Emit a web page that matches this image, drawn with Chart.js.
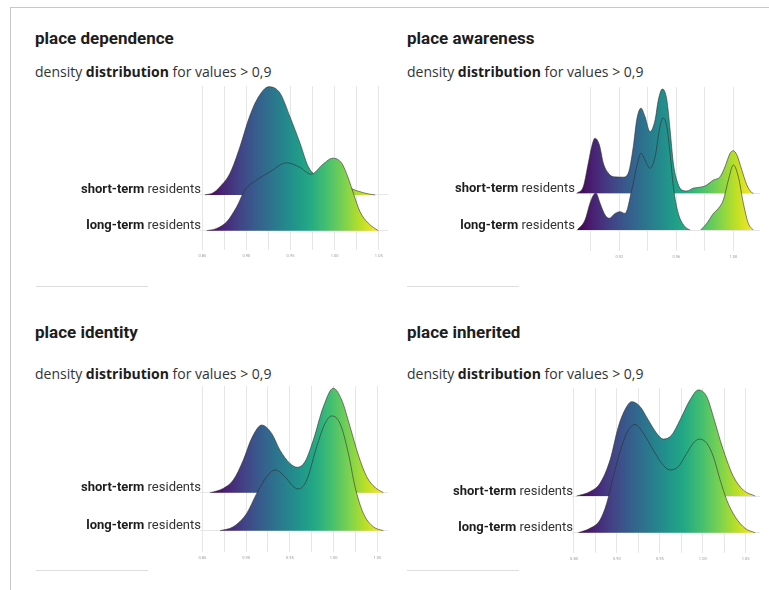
<!DOCTYPE html>
<html>
<head>
<meta charset="utf-8">
<script src="https://cdn.jsdelivr.net/npm/chart.js@4.4.1/dist/chart.umd.min.js"></script>
<style>
  html, body { margin: 0; padding: 0; background: #fff; }
  body { width: 769px; height: 590px; position: relative; overflow: hidden; font-family: Roboto, "Noto Sans", sans-serif; }
  .frame { position: absolute; left: 10px; top: 7px; width: 800px; height: 620px; border-top: 1px solid #c8c8c8; border-left: 1px solid #c8c8c8; }
  .title { position: absolute; font-weight: 700; font-size: 17px; line-height: 17px; color: #1d1d1d; white-space: nowrap; }
  .sub { position: absolute; font-family: "Open Sans", Roboto, sans-serif; font-size: 14px; line-height: 14px; color: #333; white-space: nowrap; }
  .sub b { font-weight: 700; color: #1d1d1d; }
  .rule { position: absolute; height: 1px; width: 112px; background: #dedede; }
  canvas { position: absolute; }
</style>
</head>
<body>
<div class="frame"></div>

<div class="title" style="left:35px;top:30px">place dependence</div>
<div class="sub" style="left:35px;top:64.5px">density <b>distribution</b> for values &gt; 0,9</div>
<div class="rule" style="left:36px;top:286px"></div>

<div class="title" style="left:407px;top:30px">place awareness</div>
<div class="sub" style="left:407px;top:64.5px">density <b>distribution</b> for values &gt; 0,9</div>
<div class="rule" style="left:407px;top:286px"></div>

<div class="title" style="left:35px;top:324px">place identity</div>
<div class="sub" style="left:35px;top:366.5px">density <b>distribution</b> for values &gt; 0,9</div>
<div class="rule" style="left:36px;top:570px"></div>

<div class="title" style="left:407px;top:324px">place inherited</div>
<div class="sub" style="left:407px;top:367px">density <b>distribution</b> for values &gt; 0,9</div>
<div class="rule" style="left:407px;top:570px"></div>

<canvas id="c1" width="358" height="184" style="left:30px;top:80px"></canvas>
<canvas id="c2" width="360" height="185" style="left:400px;top:80px"></canvas>
<canvas id="c3" width="358" height="186" style="left:30px;top:380px"></canvas>
<canvas id="c4" width="360" height="187" style="left:400px;top:380px"></canvas>

<script>
// Resident groups, drawn top to bottom as ridges
const groups = ['short-term', 'long-term'];

// ---- place dependence: density (in ridge-row units) over score ----
const depShortX = [0.853, 0.8625, 0.870, 0.8814, 0.8927, 0.9022, 0.9117, 0.9256, 0.9381, 0.9494, 0.9608, 0.9702, 0.9834, 0.9985, 1.0137, 1.025, 1.040, 1.046];
const depShortY = [0, 0.065, 0.23, 0.61, 1.35, 2.10, 2.66, 3.03, 2.85, 2.19, 1.45, 0.79, 0.47, 0.37, 0.23, 0.12, 0.02, 0];
const depLongX  = [0.855, 0.8663, 0.8777, 0.889, 0.8984, 0.9117, 0.9268, 0.9457, 0.9608, 0.9732, 0.9872, 0.9978, 1.008, 1.0155, 1.0212, 1.0288, 1.0382, 1.0495];
const depLongY  = [0, 0.065, 0.25, 0.67, 1.14, 1.42, 1.65, 1.90, 1.77, 1.58, 1.87, 2.03, 1.89, 1.47, 1.05, 0.53, 0.21, 0];
const depGrid   = [0.85, 0.875, 0.90, 0.925, 0.95, 0.975, 1.00, 1.025, 1.05];
const depTicks  = ['0.85', '0.90', '0.95', '1.00', '1.05'];

// ---- place awareness ----
const awaShortX = [0.8901, 0.8947, 0.8982, 0.9006, 0.9029, 0.906, 0.9088, 0.9123, 0.9158, 0.9228, 0.9263, 0.9298, 0.9322, 0.9352, 0.938, 0.9415, 0.9451, 0.9474, 0.9502, 0.9533, 0.9556, 0.9579, 0.9603, 0.9638, 0.9673, 0.9719, 0.9754, 0.9801, 0.986, 0.9907, 0.9942, 0.9977, 1.0, 1.0024, 1.0059, 1.0094, 1.0129, 1.014];
const awaShortY = [0, 0.18, 0.82, 1.27, 1.50, 1.32, 0.82, 0.55, 0.45, 0.44, 0.55, 1.27, 2.0, 2.32, 2.09, 1.68, 2.0, 2.55, 2.84, 2.55, 1.73, 0.82, 0.36, 0.09, 0.064, 0.14, 0.16, 0.2, 0.36, 0.45, 0.73, 1.09, 1.16, 1.05, 0.64, 0.23, 0.02, 0];
const awaLongX  = [0.8905, 0.8959, 0.8994, 0.9018, 0.9036, 0.9065, 0.91, 0.913, 0.917, 0.9205, 0.924, 0.9287, 0.9322, 0.9352, 0.938, 0.9415, 0.9451, 0.9481, 0.9505, 0.9533, 0.9556, 0.9579, 0.9614, 0.9661, 0.9696, 0.9733, 0.9771, 0.9813, 0.986, 0.9895, 0.993, 0.9965, 1.0, 1.0035, 1.007, 1.0105, 1.014];
const awaLongY  = [0, 0.27, 0.73, 0.95, 1.0, 0.73, 0.41, 0.32, 0.45, 0.5, 0.45, 1.09, 1.73, 2.09, 1.91, 1.68, 2.0, 2.73, 3.05, 2.82, 2.09, 1.18, 0.45, 0.09, 0, null, 0, 0.18, 0.45, 0.59, 0.82, 1.36, 1.77, 1.45, 0.73, 0.18, 0];
const awaGrid   = [0.90, 0.92, 0.94, 0.96, 0.98, 1.00];
const awaTicks  = ['0.92', '0.96', '1.00'];

// ---- place identity ----
const idnShortX = [0.8588, 0.874, 0.8854, 0.8969, 0.9064, 0.9179, 0.9293, 0.9388, 0.9502, 0.9586, 0.9674, 0.9769, 0.9883, 0.9997, 1.0093, 1.0188, 1.0283, 1.0379, 1.0474, 1.0569];
const idnShortY = [0, 0.114, 0.333, 0.86, 1.43, 1.78, 1.56, 1.12, 0.77, 0.67, 0.82, 1.39, 2.26, 2.75, 2.44, 1.74, 0.99, 0.42, 0.14, 0];
const idnLongX  = [0.8702, 0.8854, 0.9007, 0.9122, 0.9236, 0.9331, 0.9445, 0.954, 0.9597, 0.9693, 0.9807, 0.9902, 0.9979, 1.0074, 1.0169, 1.0245, 1.034, 1.0454, 1.0569];
const idnLongY  = [0, 0.105, 0.456, 0.98, 1.42, 1.60, 1.42, 1.16, 1.10, 1.33, 2.21, 2.82, 3.02, 2.82, 2.04, 1.16, 0.46, 0.105, 0];
const idnGrid   = [0.85, 0.875, 0.90, 0.925, 0.95, 0.975, 1.00, 1.025, 1.05];
const idnTicks  = ['0.85', '0.90', '0.95', '1.00', '1.05'];

// ---- place inherited ----
const inhShortX = [0.8531, 0.8686, 0.8803, 0.892, 0.9017, 0.9094, 0.9172, 0.9269, 0.9366, 0.9463, 0.9541, 0.9638, 0.9735, 0.9852, 0.9949, 1.0046, 1.0124, 1.0202, 1.028, 1.0357, 1.0473, 1.061];
const inhShortY = [0, 0.118, 0.345, 0.98, 1.89, 2.35, 2.57, 2.44, 2.07, 1.71, 1.55, 1.66, 2.07, 2.62, 2.89, 2.71, 2.16, 1.53, 0.98, 0.53, 0.16, 0];
const inhLongX  = [0.855, 0.8686, 0.8803, 0.8881, 0.8958, 0.9056, 0.9133, 0.9211, 0.9308, 0.9424, 0.9522, 0.9619, 0.9716, 0.9813, 0.989, 0.996, 1.0046, 1.0124, 1.0202, 1.028, 1.0376, 1.0493, 1.061];
const inhLongY  = [0, 0.118, 0.345, 0.80, 1.53, 2.35, 2.80, 2.95, 2.71, 2.25, 1.89, 1.71, 1.80, 2.16, 2.44, 2.55, 2.44, 2.07, 1.44, 0.89, 0.44, 0.12, 0];
const inhGrid   = [0.85, 0.875, 0.90, 0.925, 0.95, 0.975, 1.00, 1.025, 1.05];
const inhTicks  = ['0.85', '0.90', '0.95', '1.00', '1.05'];

// viridis colour ramp used for the x-mapped fill
const VIRIDIS = ['#440154', '#482475', '#414487', '#355f8d', '#2a788e', '#21918c', '#22a884', '#44bf70', '#7ad151', '#bddf26', '#fde725'];

// row labels with a bold group name followed by "residents"
const ridgeLabels = {
  id: 'ridgeLabels',
  afterDraw(chart, args, opts) {
    const { ctx, chartArea, scales } = chart;
    const y = scales.y;
    ctx.save();
    ctx.textAlign = 'right';
    ctx.textBaseline = 'alphabetic';
    opts.rows.forEach((name, i) => {
      const base = y.getPixelForValue(opts.rows.length - 1 - i) + opts.dy;
      const x = chartArea.left + opts.dx;
      ctx.font = '13px Roboto';
      ctx.fillStyle = '#333';
      const rest = ' residents';
      ctx.fillText(rest, x, base);
      const w = ctx.measureText(rest).width;
      ctx.font = 'bold 13px Roboto';
      ctx.fillStyle = '#1d1d1d';
      ctx.fillText(name, x - w, base);
    });
    ctx.restore();
  }
};

function points(xs, ys, offset) {
  return xs.map((x, i) => ({ x: x, y: ys[i] === null ? null : offset + ys[i] }));
}

function ridgeChart(id, cfg) {
  const allX = cfg.shortX.concat(cfg.longX);
  const lo = Math.min.apply(null, allX), hi = Math.max.apply(null, allX);
  const fill = (ctx) => {
    const chart = ctx.chart;
    if (!chart.chartArea) return '#21918c';
    const xs = chart.scales.x;
    const g = chart.ctx.createLinearGradient(xs.getPixelForValue(lo), 0, xs.getPixelForValue(hi), 0);
    VIRIDIS.forEach((c, i) => g.addColorStop(i / (VIRIDIS.length - 1), c));
    return g;
  };
  const line = {
    borderColor: 'rgba(45,45,45,0.85)',
    borderWidth: 0.7,
    pointRadius: 0,
    cubicInterpolationMode: 'monotone',
    spanGaps: false,
    backgroundColor: fill
  };
  return new Chart(document.getElementById(id), {
    type: 'line',
    data: {
      datasets: [
        Object.assign({ label: groups[1], data: points(cfg.longX, cfg.longY, 0), fill: { value: 0 } }, line),
        Object.assign({ label: groups[0], data: points(cfg.shortX, cfg.shortY, 1), fill: { value: 1 } }, line)
      ]
    },
    options: {
      responsive: false,
      animation: false,
      events: [],
      layout: { padding: { left: cfg.padLeft, top: cfg.padTop, right: 0, bottom: 0 } },
      plugins: {
        legend: { display: false },
        tooltip: { enabled: false },
        ridgeLabels: { rows: groups, dx: cfg.labelDx, dy: -1.5 }
      },
      scales: {
        x: {
          type: 'linear',
          min: cfg.xmin,
          max: cfg.xmax,
          afterBuildTicks: (axis) => { axis.ticks = cfg.grid.map(v => ({ value: v })); },
          afterFit: (axis) => { axis.height = 14; },
          border: { display: false },
          grid: { color: '#e6e6e6', lineWidth: 1, drawTicks: false },
          ticks: {
            autoSkip: false,
            maxRotation: 0,
            padding: 4,
            color: '#9a9a9a',
            font: { family: 'Roboto', size: 4 },
            callback: (v) => cfg.ticks.includes(Number(v).toFixed(2)) ? Number(v).toFixed(2) : ''
          }
        },
        y: {
          type: 'linear',
          min: cfg.ymin,
          max: cfg.ymax,
          afterBuildTicks: (axis) => { axis.ticks = [{ value: 0 }, { value: 1 }]; },
          afterFit: (axis) => { axis.width = 0; },
          border: { display: false },
          grid: { color: '#e6e6e6', lineWidth: 1, drawTicks: false },
          ticks: { display: false }
        }
      }
    },
    plugins: [ridgeLabels]
  });
}

ridgeChart('c1', { shortX: depShortX, shortY: depShortY, longX: depLongX, longY: depLongY, grid: depGrid, ticks: depTicks,
  xmin: 0.8474, xmax: 1.0605, ymin: -0.54, ymax: 4.05, padLeft: 170, padTop: 6, labelDx: 1 });
ridgeChart('c2', { shortX: awaShortX, shortY: awaShortY, longX: awaLongX, longY: awaLongY, grid: awaGrid, ticks: awaTicks,
  xmin: 0.8896, xmax: 1.0187, ymin: -0.572, ymax: 3.896, padLeft: 176, padTop: 7, labelDx: -1 });
ridgeChart('c3', { shortX: idnShortX, shortY: idnShortY, longX: idnLongX, longY: idnLongY, grid: idnGrid, ticks: idnTicks,
  xmin: 0.8474, xmax: 1.0622, ymin: -0.56, ymax: 3.808, padLeft: 170, padTop: 6, labelDx: 1 });
ridgeChart('c4', { shortX: inhShortX, shortY: inhShortY, longX: inhLongX, longY: inhLongY, grid: inhGrid, ticks: inhTicks,
  xmin: 0.8477, xmax: 1.0667, ymin: -0.553, ymax: 3.943, padLeft: 172, padTop: 8, labelDx: 1 });
</script>
</body>
</html>
